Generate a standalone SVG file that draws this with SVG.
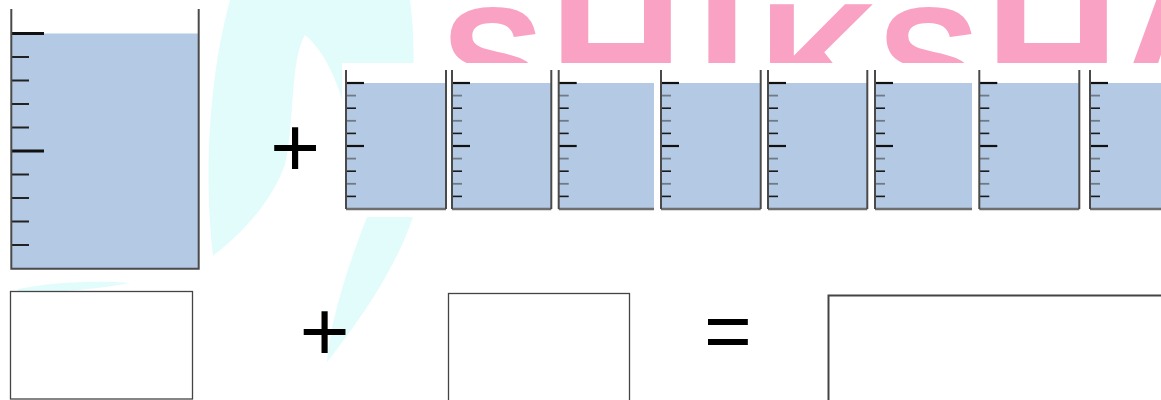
<svg xmlns="http://www.w3.org/2000/svg" xmlns:xlink="http://www.w3.org/1999/xlink" width="1161" height="400" viewBox="0 0 1161 400">
<style>
.water{fill:#B4C9E3}
.wall{stroke:#4a4a4a;stroke-width:2;fill:none}
.base{stroke:#6e6e6e;stroke-width:2.4;fill:none}
.tk{stroke:#1a1a1a;stroke-width:1.6}
.tg{stroke:#6f7a86;stroke-width:1.8}
.tl{stroke:#111;stroke-width:2.2}
.btk{stroke:#222;stroke-width:2}
.btl{stroke:#111;stroke-width:3}
.box{fill:#fff;stroke:#444;stroke-width:1.3}
.op{font-family:"Liberation Sans",Arial,sans-serif;font-size:86px;fill:#000;text-anchor:middle}
.wm{font-family:"Liberation Sans",Arial,sans-serif;font-weight:bold;fill:#F9A2C4}
.sw{fill:#E2FCFC}
</style>
<defs>
<g id="ticks">
<line class="tl" x1="0" y1="13" x2="18" y2="13"/>
<line class="tg" x1="0" y1="25.6" x2="10" y2="25.6"/>
<line class="tk" x1="0" y1="38.2" x2="10" y2="38.2"/>
<line class="tg" x1="0" y1="50.8" x2="10" y2="50.8"/>
<line class="tk" x1="0" y1="63.4" x2="10" y2="63.4"/>
<line class="tl" x1="0" y1="76" x2="18" y2="76"/>
<line class="tg" x1="0" y1="88.6" x2="10" y2="88.6"/>
<line class="tk" x1="0" y1="101.2" x2="10" y2="101.2"/>
<line class="tg" x1="0" y1="113.8" x2="10" y2="113.8"/>
<line class="tk" x1="0" y1="126.4" x2="10" y2="126.4"/>
</g>
</defs>
<rect width="1161" height="400" fill="#fff"/>
<g id="watermark">
<path class="sw" d="M230,0 L410,0 C418,60 412,120 400,217 L360,217 C355,120 335,60 305,35 C290,60 295,120 285,165 C270,205 240,235 213,256 C204,180 208,80 230,0 Z"/>
<path class="sw" d="M367,217 L413,217 C395,270 360,320 327,362 C330,320 350,260 367,217 Z"/>
<path class="sw" d="M18,289 C50,282 100,280 130,283 C100,289 60,292 18,293 Z"/>
<text class="wm"><tspan x="441" y="116" font-size="155">S</tspan><tspan x="549" y="120" font-size="186">H</tspan><tspan x="696" y="120" font-size="186">I</tspan><tspan x="759" y="118" font-size="165">K</tspan><tspan x="877" y="116" font-size="155">S</tspan><tspan x="985" y="120" font-size="186">H</tspan><tspan x="1108" y="120" font-size="186">A</tspan></text>
</g>
<rect x="342" y="63" width="819" height="154" fill="#fff"/>
<g id="big-beaker">
<rect class="water" x="11.3" y="33.5" width="187.4" height="235.2"/>
<line class="btl" x1="11.3" y1="33.5" x2="44" y2="33.5"/>
<line class="btk" x1="11.3" y1="57" x2="29" y2="57"/>
<line class="btk" x1="11.3" y1="80.5" x2="29" y2="80.5"/>
<line class="btk" x1="11.3" y1="104" x2="29" y2="104"/>
<line class="btk" x1="11.3" y1="127.5" x2="29" y2="127.5"/>
<line class="btl" x1="11.3" y1="151" x2="44" y2="151"/>
<line class="btk" x1="11.3" y1="174.5" x2="29" y2="174.5"/>
<line class="btk" x1="11.3" y1="198" x2="29" y2="198"/>
<line class="btk" x1="11.3" y1="221.5" x2="29" y2="221.5"/>
<line class="btk" x1="11.3" y1="245" x2="29" y2="245"/>
<path class="wall" d="M11.3,9 V268.7 H198.7 V9"/>
</g>
<g id="beaker-1" transform="translate(346,70)">
<rect class="water" x="0" y="13" width="100" height="126"/>
<use xlink:href="#ticks" href="#ticks"/>
<line class="base" x1="0" y1="139" x2="100" y2="139"/>
<path class="wall" d="M0,0 V139 M100,0 V139"/>
</g>
<g id="beaker-2" transform="translate(452,70)">
<rect class="water" x="0" y="13" width="99.3" height="126"/>
<use xlink:href="#ticks" href="#ticks"/>
<line class="base" x1="0" y1="139" x2="99.3" y2="139"/>
<path class="wall" d="M0,0 V139 M99.3,0 V139"/>
</g>
<g id="beaker-3" transform="translate(558.7,70)">
<rect class="water" x="0" y="13" width="95.3" height="126"/>
<use xlink:href="#ticks" href="#ticks"/>
<line class="base" x1="0" y1="139" x2="95.3" y2="139"/>
<path class="wall" d="M0,0 V139"/>
</g>
<g id="beaker-4" transform="translate(661,70)">
<rect class="water" x="0" y="13" width="99.7" height="126"/>
<use xlink:href="#ticks" href="#ticks"/>
<line class="base" x1="0" y1="139" x2="99.7" y2="139"/>
<path class="wall" d="M0,0 V139 M99.7,0 V139"/>
</g>
<g id="beaker-5" transform="translate(768,70)">
<rect class="water" x="0" y="13" width="99.3" height="126"/>
<use xlink:href="#ticks" href="#ticks"/>
<line class="base" x1="0" y1="139" x2="99.3" y2="139"/>
<path class="wall" d="M0,0 V139 M99.3,0 V139"/>
</g>
<g id="beaker-6" transform="translate(875,70)">
<rect class="water" x="0" y="13" width="97" height="126"/>
<use xlink:href="#ticks" href="#ticks"/>
<line class="base" x1="0" y1="139" x2="97" y2="139"/>
<path class="wall" d="M0,0 V139"/>
</g>
<g id="beaker-7" transform="translate(979.3,70)">
<rect class="water" x="0" y="13" width="100" height="126"/>
<use xlink:href="#ticks" href="#ticks"/>
<line class="base" x1="0" y1="139" x2="100" y2="139"/>
<path class="wall" d="M0,0 V139 M100,0 V139"/>
</g>
<g id="beaker-8" transform="translate(1090,70)">
<rect class="water" x="0" y="13" width="80" height="126"/>
<use xlink:href="#ticks" href="#ticks"/>
<line class="base" x1="0" y1="139" x2="80" y2="139"/>
<path class="wall" d="M0,0 V139"/>
</g>
<g id="plus-top"><text class="op" x="295" y="177">+</text></g>
<g id="box-1"><rect class="box" x="10.5" y="291.5" width="182" height="107.5"/></g>
<g id="plus-bottom"><text class="op" x="324.5" y="361">+</text></g>
<g id="box-2"><rect class="box" x="448.5" y="293.5" width="181" height="110"/></g>
<g id="equals"><text class="op" x="728" y="359" style="font-size:82px">=</text></g>
<g id="box-3"><rect class="box" x="828.5" y="295.5" width="340" height="110" style="stroke-width:2"/></g>
<g id="connectors"/>
</svg>
